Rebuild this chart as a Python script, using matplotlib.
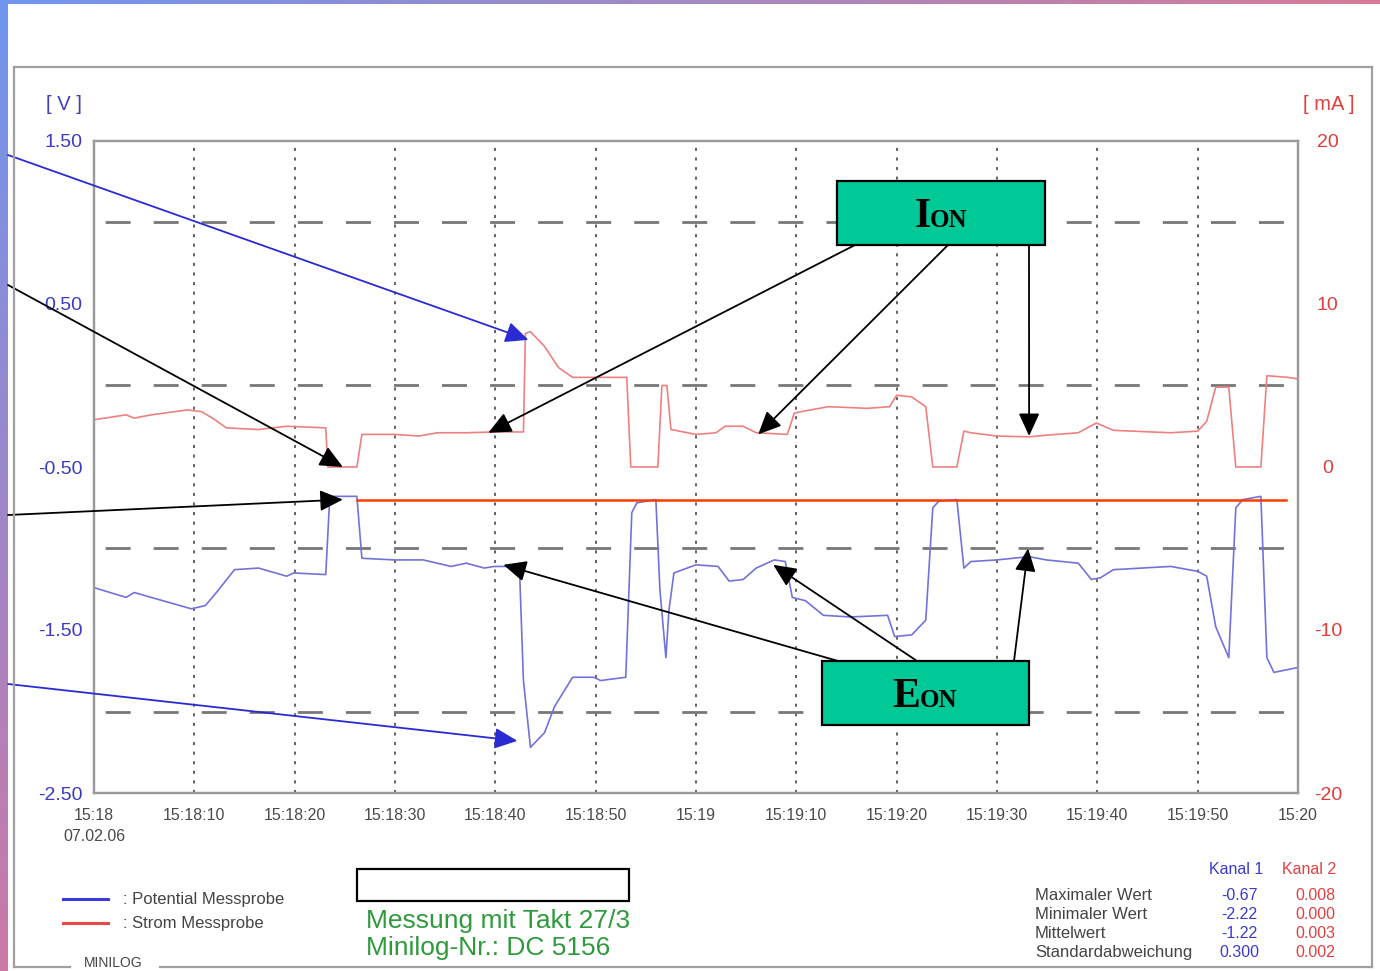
import numpy as np
import matplotlib
matplotlib.use('Agg')
import matplotlib.pyplot as plt
from matplotlib.patches import Rectangle
from matplotlib.lines import Line2D

plt.rcParams['font.family'] = ['Liberation Sans', 'DejaVu Sans']
plt.rcParams['lines.scale_dashes'] = False

# Kanal 2: Strom Messprobe, Sekunden ab 15:18:00, in mA
strom_t = [0, 3.2, 4.0, 5.7, 9.3, 10.7, 11.8, 13.2, 16.4, 19.2, 23.1, 23.3,
           26.2, 26.7, 29.9, 32.4, 34.2, 37.1, 39.9, 42.8, 43.0, 43.5, 44.9,
           46.3, 47.7, 50.2, 53.1, 53.5, 56.2, 56.6, 57.1, 57.5, 60.0, 62.0,
           62.9, 64.7, 66.0, 69.1, 69.8, 70.5, 73.2, 77.1, 79.3, 80.0, 81.5,
           82.9, 83.6, 86.0, 86.7, 87.4, 90.0, 93.2, 94.9, 98.1, 99.9, 101.6,
           107.3, 110.0, 110.9, 111.8, 113.1, 113.8, 116.3, 116.9, 119.0, 120.0]
strom_ma = [2.9, 3.2, 3.0, 3.2, 3.5, 3.4, 3.0, 2.4, 2.3, 2.5, 2.4, 0.0,
            0.0, 2.0, 2.0, 1.9, 2.1, 2.1, 2.15, 2.15, 8.2, 8.3, 7.4,
            6.1, 5.5, 5.5, 5.5, 0.0, 0.0, 5.0, 5.0, 2.3, 2.0, 2.1,
            2.5, 2.5, 2.1, 2.0, 3.3, 3.4, 3.7, 3.6, 3.7, 4.4, 4.3,
            3.7, 0.0, 0.0, 2.2, 2.1, 1.9, 1.85, 1.95, 2.1, 2.7, 2.25,
            2.1, 2.2, 2.8, 4.9, 4.9, 0.0, 0.0, 5.6, 5.5, 5.4]

# Kanal 1: Potential Messprobe, in V
pot_t = [0, 3.2, 4.0, 5.7, 9.7, 11.1, 12.2, 14.0, 16.4, 19.2, 19.9, 23.1,
         23.5, 26.2, 26.7, 29.9, 32.8, 35.6, 37.1, 38.9, 39.9, 42.4, 42.8,
         43.5, 44.9, 45.9, 47.7, 49.8, 50.5, 53.0, 53.6, 54.1, 56.0, 56.4,
         57.0, 57.3, 57.8, 60.0, 62.2, 63.3, 64.7, 66.0, 67.8, 68.9, 69.6,
         70.9, 72.7, 75.4, 79.1, 79.8, 81.5, 82.9, 83.6, 84.2, 86.0, 86.7,
         87.4, 90.0, 93.2, 94.9, 98.1, 99.4, 100.3, 101.6, 107.3, 110.0,
         110.9, 111.8, 113.1, 113.8, 114.5, 116.3, 116.9, 117.6, 120.0]
pot_v = [-1.24, -1.30, -1.27, -1.30, -1.37, -1.35, -1.27, -1.13, -1.12, -1.17, -1.15, -1.16,
         -0.68, -0.68, -1.06, -1.07, -1.07, -1.11, -1.09, -1.12, -1.11, -1.11, -1.81,
         -2.22, -2.13, -1.97, -1.79, -1.79, -1.81, -1.79, -0.78, -0.72, -0.70, -1.25,
         -1.67, -1.38, -1.15, -1.10, -1.11, -1.20, -1.19, -1.12, -1.07, -1.08, -1.30,
         -1.32, -1.41, -1.42, -1.41, -1.54, -1.53, -1.44, -0.75, -0.71, -0.70, -1.12,
         -1.08, -1.07, -1.05, -1.07, -1.09, -1.19, -1.18, -1.13, -1.11, -1.14,
         -1.17, -1.48, -1.67, -0.75, -0.70, -0.68, -1.67, -1.76, -1.73]

# rote Bezugslinie
ref_level = -0.70
ref_start, ref_end = 26.2, 118.8

x_ticks = [0, 10, 20, 30, 40, 50, 60, 70, 80, 90, 100, 110, 120]
x_labels = ['15:18\n07.02.06', '15:18:10', '15:18:20', '15:18:30', '15:18:40',
            '15:18:50', '15:19', '15:19:10', '15:19:20', '15:19:30',
            '15:19:40', '15:19:50', '15:20']
v_ticks = [-2.5, -1.5, -0.5, 0.5, 1.5]
ma_ticks = [-20, -10, 0, 10, 20]

stat_names = ['Maximaler Wert', 'Minimaler Wert', 'Mittelwert', 'Standardabweichung']
kanal1 = ['-0.67', '-2.22', '-1.22', '0.300']
kanal2 = ['0.008', '0.000', '0.003', '0.002']

W, H = 1380, 971


def fpos(l, t, r, b):
    return [l / W, 1 - b / H, (r - l) / W, (b - t) / H]


def fp(x, y):
    return (x / W, 1 - y / H)


def main():
    fig = plt.figure(figsize=(W / 100, H / 100), dpi=100)

    # farbiger Rand oben und links
    top = fig.add_axes([0, 1 - 4 / H, 1, 4 / H])
    c0 = np.array([111, 150, 238]) / 255
    c1 = np.array([216, 123, 152]) / 255
    g = np.linspace(0, 1, 256)[:, None]
    top.imshow((c0 * (1 - g) + c1 * g)[None, :, :], aspect='auto')
    top.axis('off')
    left = fig.add_axes([0, 0, 8 / W, 1 - 4 / H])
    c2 = np.array([204, 120, 166]) / 255
    left.imshow((c0 * (1 - g) + c2 * g)[:, None, :], aspect='auto')
    left.axis('off')

    # äußerer Rahmen
    frame = dict(color='#a0a0a0', lw=1.6, transform=fig.transFigure)
    for xs, ys in [((14, 1372), (67, 67)), ((14, 14), (67, 967)),
                   ((1372, 1372), (67, 967)), ((14, 70), (967, 967)),
                   ((160, 1372), (967, 967))]:
        fig.add_artist(Line2D([x / W for x in xs], [1 - y / H for y in ys], **frame))
    fig.text(*fp(84, 970), 'MINILOG', fontsize=10, color='#444444', va='bottom')

    ax = fig.add_axes(fpos(94, 141, 1298, 793))
    ax.set_xlim(0, 120)
    ax.set_ylim(-2.5, 1.5)
    ax2 = ax.twinx()
    ax2.set_ylim(-20, 20)

    ax.set_xticks(x_ticks)
    ax.set_xticklabels(x_labels)
    for lab in ax.get_xticklabels():
        lab.set_linespacing(1.55)
    ax.set_yticks(v_ticks)
    ax.set_yticklabels(['%.2f' % v for v in v_ticks])
    ax.set_yticks(np.arange(-2.0, 1.01, 0.5), minor=True)
    ax2.set_yticks(ma_ticks)
    ax2.set_yticklabels([str(v) for v in ma_ticks])
    for lab in ax2.get_yticklabels():
        lab.set_ha('center')

    ax.tick_params(axis='x', length=0, pad=10.5, labelsize=11.5, labelcolor='#4a4a4a')
    ax.tick_params(axis='y', which='both', length=0, pad=8.5, labelsize=14,
                   labelcolor='#3a3ac4')
    ax2.tick_params(axis='y', length=0, pad=21.5, labelsize=14, labelcolor='#e03c3c')

    ax.grid(axis='x', which='major', color='#555555', lw=1.3,
            linestyle=(0, (2.2, 4.7)))
    ax.grid(axis='y', which='minor', color='#777777', lw=2,
            linestyle=(26.6, (18, 16.6)))
    ax.grid(axis='y', which='major', visible=False)

    for a in (ax, ax2):
        for s in a.spines.values():
            s.set_color('#9a9a9a')
            s.set_linewidth(1.6)

    ax.plot(pot_t, pot_v, color='#7272dc', lw=1.2)
    ax.plot([ref_start, ref_end], [ref_level, ref_level], color='#ff3c00', lw=1.8)
    ax2.plot(strom_t, strom_ma, color='#ee8080', lw=1.2)

    fig.text(*fp(64, 104), '[ V ]', fontsize=14.5, color='#4040b8', ha='center', va='center')
    fig.text(*fp(1329, 104), '[ mA ]', fontsize=14.5, color='#e04040', ha='center', va='center')

    # Pfeile
    head = '-|>,head_length=0.7,head_width=0.32'

    def arrow(xy, coords, tail, color='black'):
        ax2.annotate('', xy=xy, xycoords=coords, xytext=fp(*tail),
                     textcoords='figure fraction', annotation_clip=False,
                     arrowprops=dict(arrowstyle=head, color=color, lw=1.3,
                                     shrinkA=0, shrinkB=0, mutation_scale=20))

    arrow((43.3, 7.8), ax2.transData, (8, 155), '#2b2bd4')
    arrow((24.8, 0.0), ax2.transData, (8, 285))
    arrow((24.8, -0.70), ax.transData, (8, 515))
    arrow((42.2, -2.18), ax.transData, (8, 684), '#2b2bd4')

    arrow((39.3, 2.1), ax2.transData, (855, 245))
    arrow((66.2, 2.0), ax2.transData, (948, 245))
    arrow((93.2, 1.9), ax2.transData, (1029, 245))

    arrow((40.8, -1.10), ax.transData, (838, 661))
    arrow((67.7, -1.10), ax.transData, (917, 661))
    arrow((93.1, -1.00), ax.transData, (1014, 661))

    # Beschriftungsboxen ION / EON
    for (l, t, r, b), big, x_big, x_small, base in [
            ((837, 181, 1045, 245), 'I', 915, 930, 227),
            ((822, 661, 1029, 725), 'E', 892, 920, 707)]:
        fig.add_artist(Rectangle(fp(l, b), (r - l) / W, (b - t) / H,
                                 transform=fig.transFigure, facecolor='#00c896',
                                 edgecolor='black', lw=1.6, zorder=5))
        fig.text(*fp(x_big, base), big, fontsize=30, fontweight='bold',
                 family='Liberation Serif', va='baseline', ha='left', zorder=6)
        fig.text(*fp(x_small, base), 'ON', fontsize=18, fontweight='bold',
                 family='Liberation Serif', va='baseline', ha='left', zorder=6)

    # Legende
    fig.add_artist(Line2D([63 / W, 108 / W], [1 - 899 / H] * 2, color='#3a3ae0',
                          lw=2.2, transform=fig.transFigure))
    fig.add_artist(Line2D([63 / W, 108 / W], [1 - 923 / H] * 2, color='#e84848',
                          lw=2.2, transform=fig.transFigure))
    fig.text(*fp(123, 899), ': Potential Messprobe', fontsize=12, color='#444444', va='center')
    fig.text(*fp(123, 923), ': Strom Messprobe', fontsize=12, color='#444444', va='center')

    fig.add_artist(Rectangle(fp(357, 901), 272 / W, 32 / H, transform=fig.transFigure,
                             facecolor='white', edgecolor='black', lw=1.6))
    fig.text(*fp(366, 921), 'Messung mit Takt 27/3', fontsize=19, color='#2f9a3c', va='center')
    fig.text(*fp(366, 948), 'Minilog-Nr.: DC 5156', fontsize=19, color='#2f9a3c', va='center')

    # Statistik
    fig.text(*fp(1236, 869), 'Kanal 1', fontsize=11.5, color='#3a3ad0', ha='center', va='center')
    fig.text(*fp(1309, 869), 'Kanal 2', fontsize=11.5, color='#e04040', ha='center', va='center')
    for i, name in enumerate(stat_names):
        y = 895 + 19 * i
        fig.text(*fp(1035, y), name, fontsize=12, color='#444444', va='center')
        fig.text(*fp(1239, y), kanal1[i], fontsize=11.5, color='#3a3ad0', ha='center', va='center')
        fig.text(*fp(1315, y), kanal2[i], fontsize=11.5, color='#e04040', ha='center', va='center')

    fig.savefig('out.png', dpi=100)


if __name__ == '__main__':
    main()
